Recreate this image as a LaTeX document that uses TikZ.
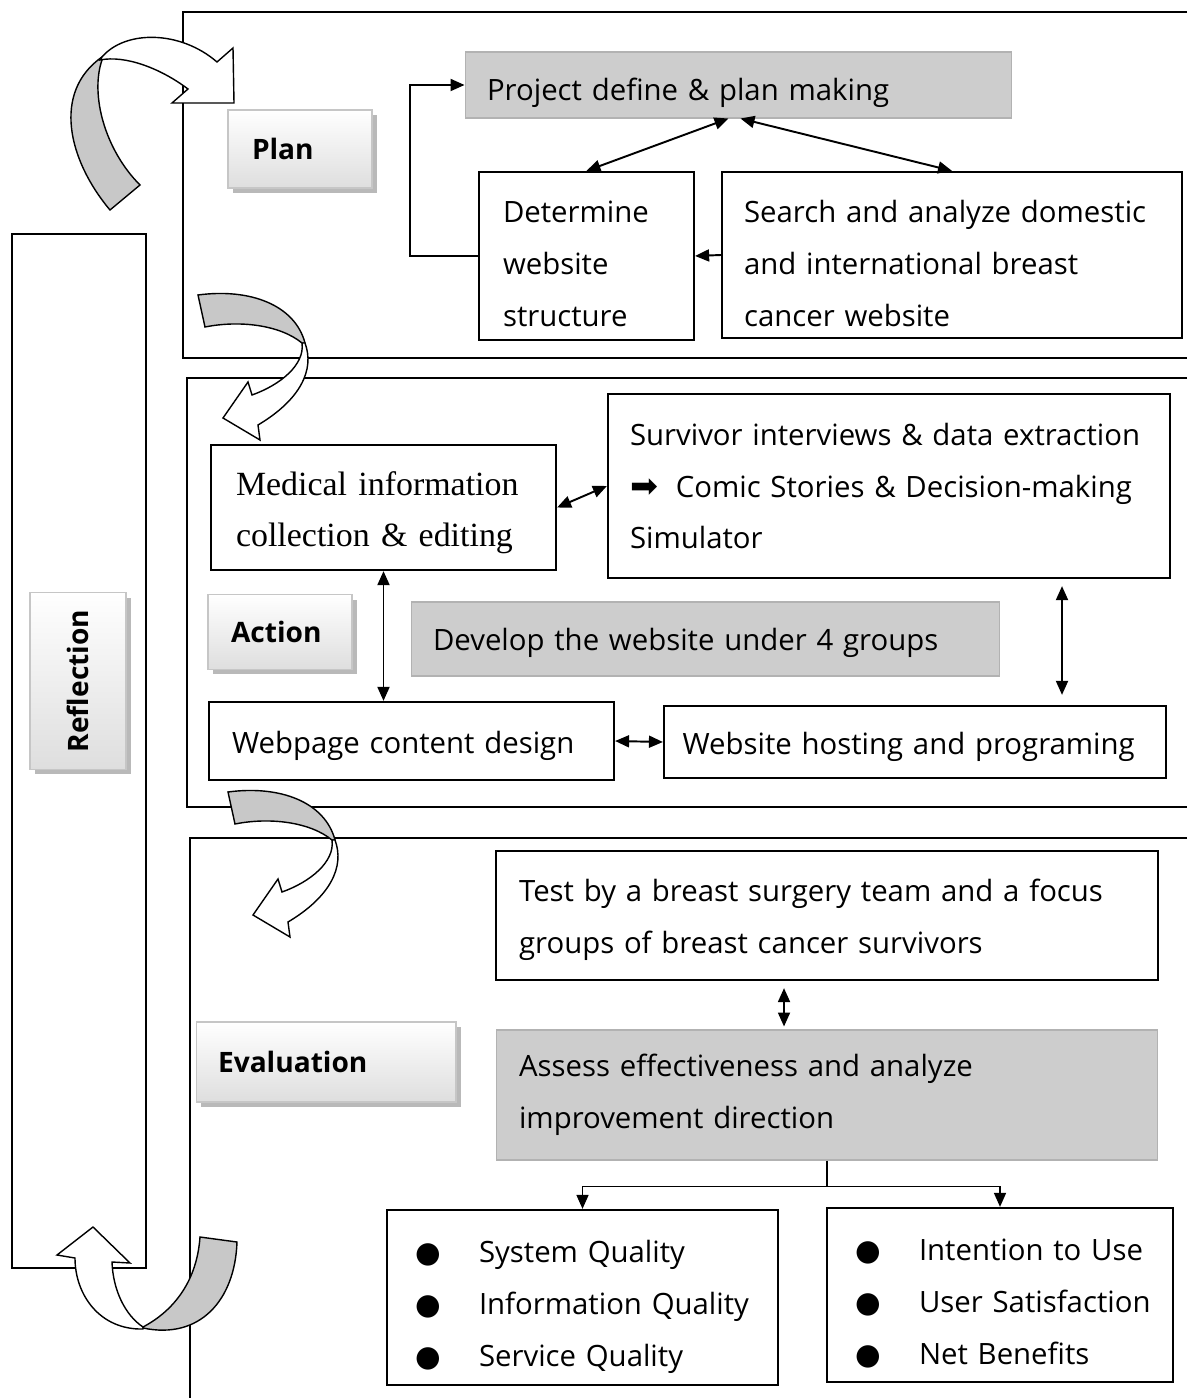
\documentclass[tikz,border=0pt]{standalone}
\usepackage{fontspec}
\setmainfont{Open Sans}
\newfontfamily\serifbody{Liberation Serif}
\newfontfamily\symbfont{DejaVu Sans}
\usetikzlibrary{arrows.meta,shadows,calc}

\definecolor{ribbongray}{RGB}{200,200,200}
\definecolor{boxgray}{RGB}{205,205,205}
\definecolor{labelgray}{RGB}{222,222,222}
\newcommand{\bul}{\makebox[1.54cm][l]{\hspace{0.26cm}\symbfont ●}}

\tikzset{
  frame/.style={line width=1.6pt},
  box/.style={draw, line width=1.3pt, align=left, inner ysep=0pt,
    font=\fontsize{16.7}{29.5}\selectfont},
  graybox/.style={box, draw=gray!60, line width=0.6pt, fill=boxgray},
  tag/.style={draw=gray!45, line width=0.6pt, top color=white, bottom color=labelgray,
    drop shadow={shadow xshift=0.1cm, shadow yshift=-0.1cm, fill=gray!55, opacity=1},
    font=\bfseries\fontsize{16}{19}\selectfont, align=left, inner ysep=0pt},
  link/.style={line width=1.1pt, -{Triangle[length=0.28cm,width=0.24cm]}},
  dlink/.style={line width=1.1pt,
    {Triangle[length=0.28cm,width=0.24cm]}-{Triangle[length=0.28cm,width=0.24cm]}},
  ribbon/.style={draw, line width=0.8pt, fill=white},
  ribbonback/.style={draw, line width=0.8pt, fill=ribbongray}
}

\begin{document}
\begin{tikzpicture}[x=0.02cm, y=-0.02cm]
\useasboundingbox (0,0) rectangle (1187,1398);
% phase frames, open to the right
\draw [frame] (1187,12) -- (183,12) -- (183,358) -- (1187,358);
\draw [frame] (1187,378) -- (187,378) -- (187,807) -- (1187,807);
\draw [frame] (1187,838) -- (190,838) -- (190,1398);
\draw [line width=1.3pt] (12,234) rectangle (146,1268);

% tags
\node [tag, text width=1.92cm, inner xsep=0.48cm, minimum height=1.56cm] (plantag) at (300,149) {Plan};
\node [tag, text width=1.96cm, inner xsep=0.46cm, minimum height=1.5cm] (actiontag) at (280,632) {Action};
\node [tag, text width=4.32cm, inner xsep=0.44cm, minimum height=1.6cm] (evaltag) at (326,1062) {Evaluation};
\node [tag, align=center, rotate=90, minimum width=3.54cm, minimum height=1.92cm] (refltag) at (78,681) {Reflection};

% plan
\node [graybox, text width=10.06cm, inner xsep=0.44cm, minimum height=1.32cm, text height=21.5pt] (project) at (738.5,85) {Project define \& plan making};
\node [box, text width=3.34cm, inner xsep=0.48cm, minimum height=3.36cm, text height=21pt] (determine) at (586.5,256) {Determine\\website\\structure};
\node [box, text width=8.32cm, inner xsep=0.44cm, minimum height=3.32cm, text height=22.5pt] (search) at (952,255) {Search and analyze domestic\\and international breast\\cancer website};
\draw [link] (determine.west) -- ++(-68,0) |- (project.west);
\draw [dlink] (determine.north) -- ([xshift=-0.2cm]project.south);
\draw [dlink] ([xshift=0.04cm]project.south) -- (search.north);
\draw [link] (search.west) -- (determine.east);

% action
\node [box, text width=5.9cm, inner xsep=0.5cm, minimum height=2.5cm, text height=19pt,
  font=\serifbody\fontsize{19.3}{29}\selectfont] (medical) at (383.5,507.5) {Medical information\\collection \& editing};
\node [box, text width=10.36cm, inner xsep=0.44cm, minimum height=3.68cm] (survivor) at (889,486) {Survivor interviews \& data extraction\\{\symbfont\fontsize{19}{19}\selectfont ➡}\hspace{0.16cm} Comic Stories \& Decision-making\\Simulator};
\node [graybox, text width=10.9cm, inner xsep=0.44cm, minimum height=1.48cm, text height=17.3pt] (develop) at (705.5,639) {Develop the website under 4 groups};
\node [box, text width=7.18cm, inner xsep=0.46cm, minimum height=1.56cm, text height=18.4pt] (webpage) at (411.5,741) {Webpage content design};
\node [box, text width=9.3cm, inner xsep=0.37cm, minimum height=1.44cm, text height=18.4pt] (hosting) at (915,742) {Website hosting and programing};
\draw [dlink] (medical.east) -- (survivor.west);
\draw [dlink] (medical.south) -- (medical.south |- webpage.north);
\draw [dlink, shorten <=0.14cm, shorten >=0.2cm] ($(survivor.south)+(173,0)$) -- ($(hosting.north)+(147,0)$);
\draw [dlink] (webpage.east) -- (hosting.west);

% evaluation
\node [box, text width=12.32cm, inner xsep=0.46cm, minimum height=2.58cm, text height=17.3pt] (test) at (827,915.5) {Test by a breast surgery team and a focus\\groups of breast cancer survivors};
\node [graybox, text width=12.32cm, inner xsep=0.46cm, minimum height=2.6cm] (assess) at (827,1095) {Assess effectiveness and analyze\\improvement direction};
\node [box, text width=7.22cm, inner xsep=0.3cm, minimum height=3.5cm, text height=23pt] (sysq) at (582.5,1297.5) {\bul System Quality\\\bul Information Quality\\\bul Service Quality};
\node [box, text width=6.32cm, inner xsep=0.3cm, minimum height=3.48cm, text height=22pt] (usage) at (1000,1295) {\bul Intention to Use\\\bul User Satisfaction\\\bul Net Benefits};
\draw [dlink, shorten <=0.14cm, shorten >=0.06cm] ([xshift=-0.86cm]test.south) -- ([xshift=-0.86cm]assess.north);
\draw [link, line width=0.9pt] (assess.south) -- ++(0,26) -| (sysq.north);
\draw [link, line width=0.9pt] (assess.south) ++(0,26) -| (usage.north);

% ribbon arrows between phases
\filldraw [ribbonback] (110,210) .. controls (68,160) and (52,92) .. (102,57) -- (102,60) .. controls (90,95) and (105,150) .. (140,185) -- cycle;
\filldraw [ribbon] (102,57) .. controls (125,30) and (180,30) .. (217,62) -- (233,48) -- (234,103) -- (172,103) -- (188,89) .. controls (160,68) and (125,55) .. (100,60) -- cycle;
\foreach \dy/\dx in {0/0, 497/30} {
  \begin{scope}[shift={(\dx,\dy)}]
  \filldraw [ribbonback] (198,295) .. controls (250,288) and (295,305) .. (305,343) -- (302,343) .. controls (280,325) and (240,320) .. (205,327) -- cycle;
  \filldraw [ribbon] (305,343) .. controls (315,370) and (300,400) .. (258,425) -- (260,440) -- (223,418) -- (248,382) -- (252,395) .. controls (280,385) and (305,365) .. (302,343) -- cycle;
  \end{scope}
}
\filldraw [ribbon] (143,1329) .. controls (100,1330) and (75,1295) .. (75,1258) -- (57,1255) -- (93,1227) -- (130,1263) -- (112,1262) .. controls (113,1290) and (125,1315) .. (143,1327) -- cycle;
\filldraw [ribbonback] (143,1328) .. controls (200,1340) and (235,1300) .. (237,1242) -- (200,1237) .. controls (197,1280) and (175,1310) .. (143,1327) -- cycle;
\end{tikzpicture}
\end{document}
